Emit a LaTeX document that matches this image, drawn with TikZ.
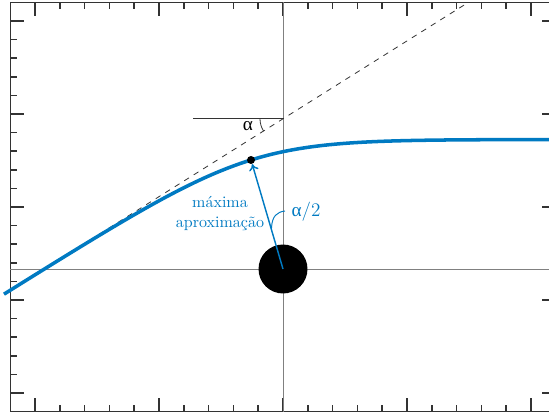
\documentclass[tikz,border=0pt]{standalone}
\usepackage{fontspec}
\newfontfamily\grkfont{Liberation Serif}
\usetikzlibrary{arrows.meta}
\definecolor{orbitblue}{RGB}{0,122,194}
\begin{document}
\begin{tikzpicture}[x=0.625pt,y=-0.625pt,
  frame/.style={line width=0.7pt, black!80},
  tickmark/.style={line width=0.9pt, black!80},
  axisline/.style={line width=0.6pt, black!50},
  orbit/.style={line width=2.2pt, orbitblue},
  asym/.style={line width=0.5pt, black!80, dash pattern=on 3.5pt off 3.5pt},
  refline/.style={line width=0.6pt, black!80},
  bluelabel/.style={text=orbitblue, font=\normalsize}]
\clip (0,0) rectangle (549,414);
% frame and ticks
\draw[frame] (10.2,2.4) rectangle (555.8,411.6);
\foreach \k in {1,...,21} {
  \pgfmathsetmacro\xx{10.2+24.8*\k}
  \pgfmathsetmacro\yy{2.4+18.6*\k}
  \pgfmathsetmacro\len{ifthenelse(mod(\k,5)==1,14,7)}
  \draw[tickmark] (\xx,411.6) -- ++(0,-\len);
  \draw[tickmark] (\xx,2.4) -- ++(0,\len);
  \draw[tickmark] (10.2,\yy) -- ++(\len,0);
  \draw[tickmark] (555.8,\yy) -- ++(-\len,0);
}
% axes through the mass
\coordinate (F) at (283,269);
\draw[axisline] (10.2,269) -- (555.8,269);
\draw[axisline] (283,2.4) -- (283,411.6);
% asymptote and reference line
\coordinate (dL) at (4,{139.5+0.628*246});
\coordinate (dR) at ({250+137.1/0.628},2.4);
\coordinate (V) at (283,{139.5-0.628*33});
\coordinate (H) at (193,{139.5-0.628*33});
\draw[asym] (dL) -- (dR);
\draw[refline] (H) -- (V);
\draw[line width=0.5pt, black!80] (V) ++(-23,0) arc[start angle=180, end angle=212, radius=14.4pt];
\node[font=\large\grkfont] (alab) at (248,126) {α};
% orbit
\draw[orbit] plot[domain=4:560, samples=160, smooth]
  (\x, {139.5+30*ln(1+exp(-0.628*(\x-250)/30))});
% mass and periapsis
\node[circle, fill=black, inner sep=0pt, minimum size=30.6pt] (mass) at (F) {};
\node[circle, fill=black, inner sep=0pt, minimum size=5pt] (peri) at (251,160) {};
\draw[orbitblue, line width=0.9pt, -{To[length=4pt,width=6pt]}] (mass.center) -- (peri);
\draw[orbitblue, line width=0.6pt] (271.5,228) .. controls (272,216) and (277,212) .. (285,211);
\node[bluelabel, anchor=west, font=\large] (half) at (286,212) {{\grkfont α}/2};
\node[bluelabel, align=center] (maxap) at (220,213.5) {máxima\\aproximação};
\end{tikzpicture}
\end{document}
